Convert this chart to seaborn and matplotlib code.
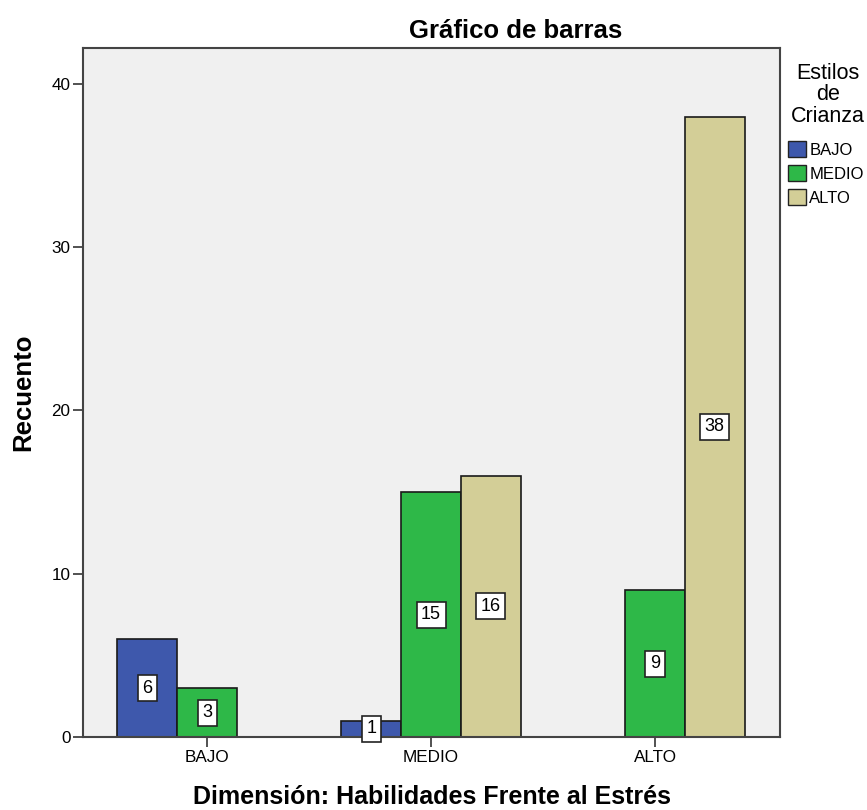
import pandas as pd
import numpy as np
import seaborn as sns
import matplotlib.pyplot as plt
from matplotlib.patches import Patch

groups = ['BAJO', 'MEDIO', 'ALTO']
styles = ['BAJO', 'MEDIO', 'ALTO']
# rows: dimension group, style, count (empty combos left out)
dim_col = ['BAJO', 'BAJO', 'MEDIO', 'MEDIO', 'MEDIO', 'ALTO', 'ALTO']
style_col = ['BAJO', 'MEDIO', 'BAJO', 'MEDIO', 'ALTO', 'MEDIO', 'ALTO']
counts = [6, 3, 1, 15, 16, 9, 38]
colors = ['#3E58AC', '#2EB848', '#D3CE97']

df = pd.DataFrame({'dim': dim_col, 'estilo': style_col, 'n': counts})

sns.set_style('ticks')
plt.rcParams['font.family'] = ['Liberation Sans', 'DejaVu Sans']
plt.rcParams.update({'text.color': 'black', 'axes.labelcolor': 'black',
                     'xtick.color': 'black', 'ytick.color': 'black'})

fig = plt.figure(figsize=(8.67, 8.10), dpi=100)
ax = fig.add_axes([0.0957, 0.0901, 0.804, 0.8506])
ax.set_facecolor('#F0F0F0')

sns.barplot(data=df, x='dim', y='n', hue='estilo', order=groups, hue_order=styles,
            palette=colors, width=0.8, edgecolor='#1a1a1a', linewidth=1.2,
            saturation=1, errorbar=None, ax=ax, legend=False)

for cont in ax.containers:
    for bar in cont:
        h = bar.get_height()
        if np.isnan(h) or h == 0:
            continue
        ax.text(bar.get_x() + bar.get_width() / 2, h / 2, f'{int(h)}',
                ha='center', va='center', fontsize=13,
                bbox=dict(boxstyle='square,pad=0.25', fc='white', ec='#222222', lw=1.2))

ax.set_xlim(-0.554, 2.558)
ax.set_ylim(0, 42.2)
ax.set_yticks([0, 10, 20, 30, 40])
ax.tick_params(axis='both', labelsize=12.3, length=7, width=1.2, color='#333333', pad=2)
for s in ax.spines.values():
    s.set_color('#444444')
    s.set_linewidth(1.5)

ax.set_title('Gráfico de barras', fontsize=18.5, fontweight='bold', pad=7, x=0.62)
ax.set_xlabel('Dimensión: Habilidades Frente al Estrés', fontsize=18, fontweight='bold', labelpad=15)
ax.set_ylabel('Recuento', fontsize=18.5, fontweight='bold', labelpad=12)

# legend title drawn on its own so the gap to the entries can match
fig.text(828 / 867, 1 - 95 / 810, 'Estilos\nde\nCrianza', ha='center', va='center',
         fontsize=15.5, linespacing=1.04, multialignment='center')
handles = [Patch(facecolor=c, edgecolor='#222222', label=s) for c, s in zip(colors, styles)]
leg = fig.legend(handles=handles, loc='upper left',
                 bbox_to_anchor=(788 / 867, 1 - 141 / 810), frameon=False, fontsize=12,
                 handlelength=1.08, handleheight=1.08, borderpad=0, borderaxespad=0,
                 handletextpad=0.2, labelspacing=0.45)

fig.savefig('out.png', dpi=100)
